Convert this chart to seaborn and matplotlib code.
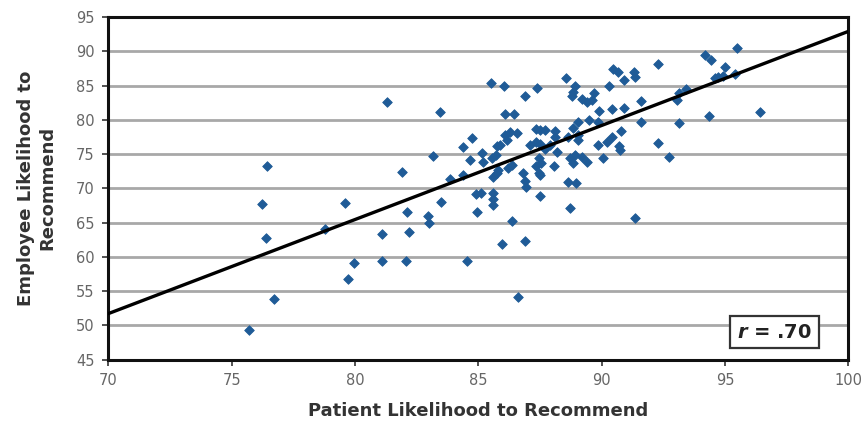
import matplotlib
matplotlib.use("Agg")
import matplotlib.pyplot as plt
import seaborn as sns
import pandas as pd

# Patient (x) and employee (y) likelihood-to-recommend scores
patient = [75.7, 76.25, 76.45, 76.4, 76.7, 78.8, 79.6, 79.7, 79.95, 81.1,
           81.1, 81.3, 81.9, 82.1, 82.2, 82.05, 82.95, 83.0, 83.15, 83.45,
           83.5, 83.85, 84.4, 84.4, 84.55, 84.65, 84.75, 84.9, 85.1, 84.95,
           85.15, 85.2, 85.5, 85.6, 85.6, 85.6, 85.55, 85.7, 85.75, 85.9,
           85.75, 85.6, 85.8, 85.95, 86.05, 86.1, 86.45, 86.1, 86.3, 86.55,
           86.15, 86.2, 86.35, 86.35, 86.6, 86.9, 86.9, 86.8, 86.9, 86.95,
           87.1, 87.35, 87.35, 87.4, 87.35, 87.45, 87.5, 87.7, 87.5, 87.7,
           87.9, 88.1, 88.1, 87.45, 87.55, 87.5, 87.5, 88.05, 88.2, 88.55,
           88.7, 88.65, 88.85, 88.7, 88.85, 88.9, 89.2, 89.4, 88.65, 88.95,
           88.9, 88.85, 88.8, 89.05, 89.05, 89.2, 89.4, 89.7, 89.6, 89.05,
           89.5, 89.85, 89.9, 89.85, 90.2, 90.4, 90.05, 90.4, 90.3, 90.45,
           90.65, 90.7, 90.75, 90.8, 90.9, 90.9, 91.3, 91.35, 91.35, 91.6,
           91.6, 92.3, 92.3, 92.75, 93.05, 93.15, 93.15, 93.4, 94.2, 94.45,
           94.35, 94.7, 95.0, 95.5, 96.4, 94.6, 94.9, 95.4]
employee = [49.3, 67.7, 73.3, 62.7, 53.9, 64.0, 67.8, 56.7, 59.1, 63.3,
            59.4, 82.6, 72.4, 66.5, 63.6, 59.4, 65.9, 65.0, 74.7, 81.2,
            68.0, 71.3, 71.9, 76.0, 59.4, 74.2, 77.3, 69.1, 69.25, 66.6,
            75.1, 73.9, 85.3, 69.3, 68.5, 67.5, 74.4, 74.85, 76.1, 76.3,
            72.2, 71.7, 72.65, 61.8, 84.9, 80.9, 80.9, 77.8, 78.2, 78.0,
            77.0, 72.9, 73.4, 65.2, 54.1, 83.4, 62.3, 72.2, 71.1, 70.2,
            76.3, 76.8, 78.7, 84.6, 73.2, 72.2, 78.5, 78.5, 76.5, 75.8,
            76.3, 77.5, 78.3, 74.4, 73.65, 71.9, 68.8, 73.2, 75.3, 86.05,
            67.1, 77.5, 78.75, 74.4, 73.65, 74.85, 74.6, 73.9, 70.95, 70.7,
            84.9, 84.1, 83.4, 77.8, 77.0, 83.1, 82.6, 83.85, 82.9, 79.7,
            80.0, 79.7, 81.3, 76.3, 76.8, 77.5, 74.4, 81.5, 84.9, 87.4,
            87.0, 76.1, 75.6, 78.3, 81.75, 85.8, 87.0, 86.2, 65.6, 82.8,
            79.7, 88.2, 76.55, 74.6, 82.9, 83.9, 79.5, 84.5, 89.45, 88.7,
            80.55, 86.3, 87.7, 90.5, 81.2, 86.1, 86.4, 86.7]

# Regression line endpoints
fit_x = [70, 100]
fit_y = [51.7, 92.9]

x_ticks = [70, 75, 80, 85, 90, 95, 100]
y_ticks = [45, 50, 55, 60, 65, 70, 75, 80, 85, 90, 95]
r_label = ".70"

df = pd.DataFrame({"Patient": patient, "Employee": employee})
fit_df = pd.DataFrame({"x": fit_x, "y": fit_y})

sns.set_theme(style="white")
plt.rcParams["font.family"] = ["DejaVu Sans"]

fig = plt.figure(figsize=(8.66, 4.25), dpi=100)
ax = fig.add_axes([0.125, 0.154, 0.8546, 0.806])

for yv in y_ticks[1:-1]:
    ax.axhline(yv, color="#a8a8a8", lw=2.0, zorder=0)

sns.scatterplot(data=df, x="Patient", y="Employee", ax=ax, marker="D",
                s=24, color="#1f5b97", edgecolor="#1f5b97", linewidth=0.6,
                zorder=3)
sns.lineplot(data=fit_df, x="x", y="y", ax=ax, color="black", lw=2.4,
             zorder=4)

ax.set_xlim(70, 100)
ax.set_ylim(45, 95)
ax.set_xticks(x_ticks)
ax.set_yticks(y_ticks)
ax.tick_params(axis="both", which="both", direction="out", length=4,
               width=1.2, color="#333333", labelsize=10.5,
               labelcolor="#666666", pad=6, bottom=True, left=True)
for sp in ax.spines.values():
    sp.set_color("#111111")
    sp.set_linewidth(2.2)
    sp.set_visible(True)

ax.set_xlabel("Patient Likelihood to Recommend", fontsize=13,
              fontweight="bold", color="#333333", labelpad=10)
ax.set_ylabel("Employee Likelihood to\nRecommend", fontsize=13,
              fontweight="bold", color="#333333", labelpad=14,
              linespacing=1.2)

ax.text(0.9, 0.08, r"$\boldsymbol{r}$ = " + r_label, transform=ax.transAxes,
        ha="center", va="center", fontsize=14, fontweight="bold",
        color="#222222", zorder=6,
        bbox=dict(boxstyle="square,pad=0.35", facecolor="white",
                  edgecolor="#333333", linewidth=1.6))

fig.savefig("out.png", dpi=100)
